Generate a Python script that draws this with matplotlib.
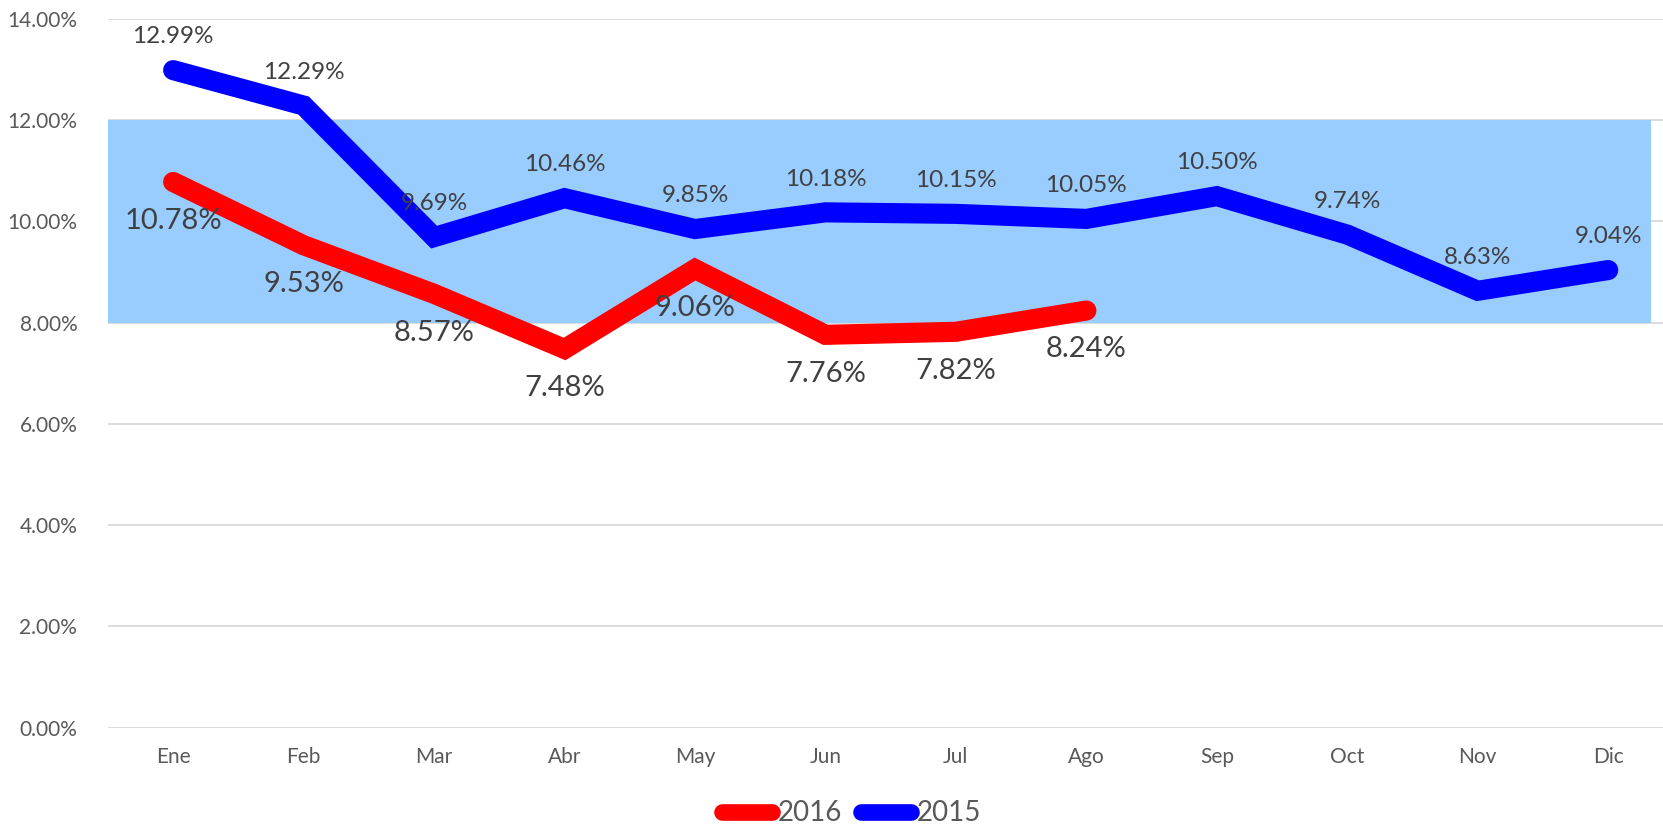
import matplotlib.pyplot as plt
from matplotlib.ticker import FuncFormatter

plt.rcParams['font.family'] = ['Lato', 'DejaVu Sans']

# Data
months = ["Ene", "Feb", "Mar", "Abr", "May", "Jun", "Jul", "Ago", "Sep", "Oct", "Nov", "Dic"]
rate_2015 = [12.99, 12.29, 9.69, 10.46, 9.85, 10.18, 10.15, 10.05, 10.50, 9.74, 8.63, 9.04]
rate_2016 = [10.78, 9.53, 8.57, 7.48, 9.06, 7.76, 7.82, 8.24]
band_low, band_high = 8.0, 12.0

fig = plt.figure(figsize=(16.63, 8.30), dpi=100)
ax = fig.add_axes([0.0649, 0.1234, 0.9351, 0.8537])

x15 = list(range(len(rate_2015)))
x16 = list(range(len(rate_2016)))

# target band
ax.fill_between([-0.5, 11.33], band_low, band_high, color="#99CCFF", lw=0, zorder=1)

ax.plot(x16, rate_2016, color="#FF0000", lw=14.5, solid_capstyle="round",
        solid_joinstyle="miter", label="2016", zorder=3)
ax.plot(x15, rate_2015, color="#0000FF", lw=14.5, solid_capstyle="round",
        solid_joinstyle="miter", label="2015", zorder=3)

for x, v in zip(x15, rate_2015):
    ax.annotate(f"{v:.2f}%", (x, v), xytext=(0, 24), textcoords="offset points",
                ha="center", va="center", fontsize=17.5, color="#404040", zorder=4)
for x, v in zip(x16, rate_2016):
    ax.annotate(f"{v:.2f}%", (x, v), xytext=(0, -28), textcoords="offset points",
                ha="center", va="center", fontsize=21, color="#404040", zorder=4)

ax.set_xlim(-0.5, 11.42)
ax.set_ylim(0, 14)
ax.set_yticks(range(0, 15, 2))
ax.yaxis.set_major_formatter(FuncFormatter(lambda v, p: f"{v:.2f}%"))
ax.set_xticks(x15)
ax.set_xticklabels(months)
ax.tick_params(axis="both", length=0, labelsize=15, labelcolor="#595959")
ax.tick_params(axis="y", pad=22)
ax.tick_params(axis="x", pad=14)

ax.grid(axis="y", color="#D9D9D9", lw=1.3, zorder=0)
ax.set_axisbelow(True)
for s in ax.spines.values():
    s.set_visible(False)

leg = fig.legend(loc="center", bbox_to_anchor=(0.512, 0.02), ncol=2, frameon=False,
                 fontsize=20, handlelength=1.8, handletextpad=0.2, columnspacing=0.7)
for t in leg.get_texts():
    t.set_color("#595959")
for h in leg.get_lines():
    h.set_linewidth(12)
    h.set_solid_capstyle("round")

fig.savefig("out.png", dpi=100)
